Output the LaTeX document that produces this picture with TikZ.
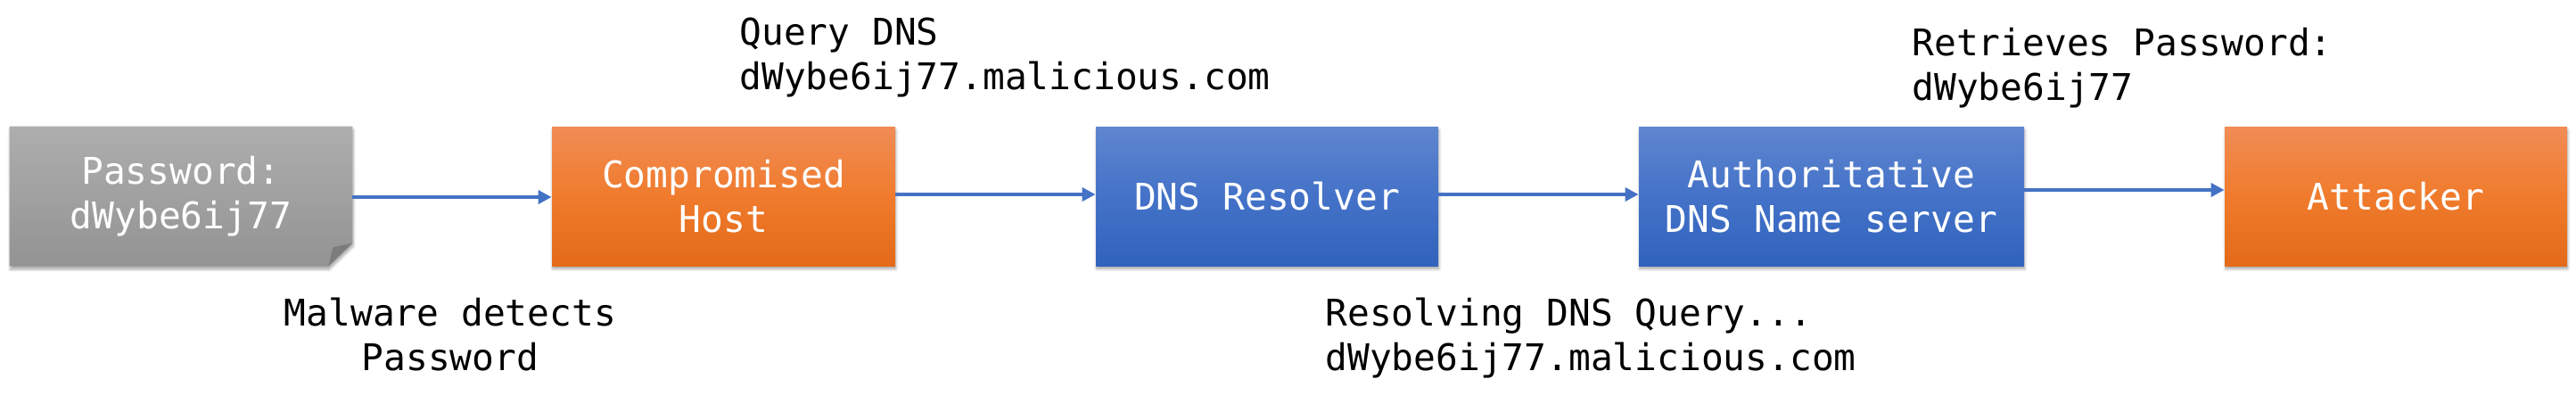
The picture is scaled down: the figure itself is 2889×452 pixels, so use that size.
\documentclass[tikz,border=0pt]{standalone}
\usepackage{fontspec}
\setmonofont{DejaVu Sans Mono}
\usetikzlibrary{shadows.blur,backgrounds,calc,arrows.meta}
\definecolor{arrowblue}{HTML}{4472C4}
\definecolor{orTop}{HTML}{F08C55}
\definecolor{orMid}{HTML}{F07B2C}
\definecolor{orBot}{HTML}{E26A19}
\definecolor{blTop}{HTML}{5F86CF}
\definecolor{blMid}{HTML}{4472C8}
\definecolor{blBot}{HTML}{3063BB}
\definecolor{grTop}{HTML}{AEAEAE}
\definecolor{grBot}{HTML}{939393}
\definecolor{grFold}{HTML}{7C7C7C}
\begin{document}
\begin{tikzpicture}[x=0.5pt,y=-0.5pt,
  font=\ttfamily\fontsize{20.6}{25}\selectfont,
  softshadow/.style={blur shadow={shadow xshift=0.4pt, shadow yshift=-1.8pt, shadow blur steps=6, shadow blur radius=1.5pt, shadow opacity=35}},
  box/.style={rectangle, minimum height=78pt, inner sep=0pt, align=center, text=white, softshadow},
  orangebox/.style={box, top color=orTop, bottom color=orBot, middle color=orMid},
  bluebox/.style={box, top color=blTop, bottom color=blBot, middle color=blMid},
  notebox/.style={rectangle, minimum height=78pt, inner sep=0pt, align=center, text=white},
  flow/.style={draw=arrowblue, line width=2pt, -{Triangle[length=7.5pt,width=7.5pt]}},
  lbl/.style={anchor=base west, inner sep=0pt, text=black},
  clbl/.style={anchor=base, inner sep=0pt, text=black}]
\useasboundingbox (0,0) rectangle (2889,452);

% nodes
\node[notebox, minimum width=192pt] (pw) at (203,220) {Password:\\dWybe6ij77};
\node[orangebox, minimum width=192.5pt] (ch) at (811.5,220) {Compromised\\Host};
\node[bluebox, minimum width=192pt] (dns) at (1421,220) {DNS Resolver};
\node[bluebox, minimum width=216pt] (auth) at (2054,220) {Authoritative\\DNS Name server};
\node[orangebox, minimum width=192pt] (att) at (2687,220) {Attacker};

% folded note shape behind password node
\begin{scope}[on background layer]
  \shade[top color=grTop, bottom color=grBot, softshadow]
    (pw.north west) -- (pw.north east) -- ($(pw.south east)+(0,-26)$)
    -- ($(pw.south east)+(-27,0)$) -- (pw.south west) -- cycle;
  \fill[grFold] ($(pw.south east)+(-27,0)$) -- ($(pw.south east)+(-22,-21)$)
    -- ($(pw.south east)+(0,-26)$) -- cycle;
\end{scope}

% connectors
\draw[flow] ($(pw.east)+(0,1)$) -- ($(ch.west)+(0,1)$);
\draw[flow] ($(ch.east)+(0,-2)$) -- ($(dns.west)+(0,-2)$);
\draw[flow] ($(dns.east)+(0,-2)$) -- ($(auth.west)+(0,-2)$);
\draw[flow] ($(auth.east)+(0,-7)$) -- ($(att.west)+(0,-7)$);

% labels
\node[lbl] (q1) at (829,50) {Query DNS};
\node[lbl] (q2) at (829,100) {dWybe6ij77.malicious.com};
\node[clbl] (m1) at (505,365) {Malware detects};
\node[clbl] (m2) at (505,415) {Password};
\node[lbl] (r1) at (1486,365) {Resolving DNS Query...};
\node[lbl] (r2) at (1486,415) {dWybe6ij77.malicious.com};
\node[lbl] (p1) at (2144,62) {Retrieves Password:};
\node[lbl] (p2) at (2144,112) {dWybe6ij77};
\end{tikzpicture}
\end{document}
